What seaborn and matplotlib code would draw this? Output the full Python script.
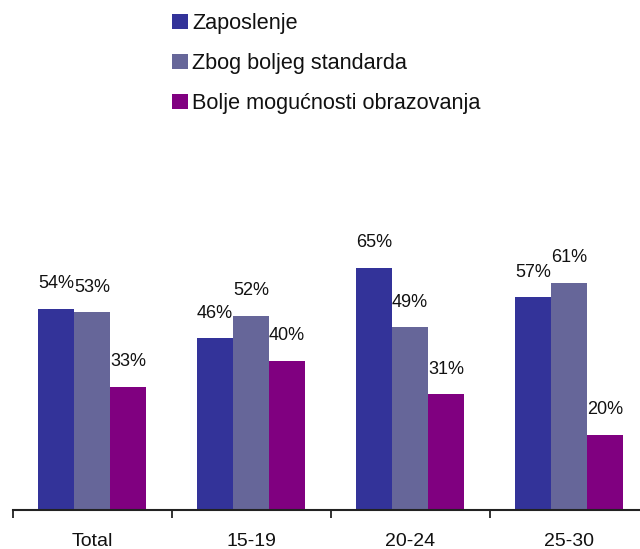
import matplotlib
matplotlib.use("Agg")
import matplotlib.pyplot as plt
import seaborn as sns
import pandas as pd

categories = ["Total", "15-19", "20-24", "25-30"]
series_names = ["Zaposlenje", "Zbog boljeg standarda", "Bolje mogućnosti obrazovanja"]
zaposlenje = [54, 46, 65, 57]
standard = [53, 52, 49, 61]
obrazovanje = [33, 40, 31, 20]
colors = ["#333399", "#666699", "#800080"]

rows = []
for name, vals in zip(series_names, [zaposlenje, standard, obrazovanje]):
    for cat, v in zip(categories, vals):
        rows.append({"Kategorija": cat, "Razlog": name, "Udio": v})
df = pd.DataFrame(rows)

sns.set_theme(style="white")
plt.rcParams["font.family"] = ["Liberation Sans", "DejaVu Sans"]

W, H = 640, 549
fig = plt.figure(figsize=(W / 100, H / 100), dpi=100)
left_px, base_px, cat_px = 12.5, 509.5, 159
ax = fig.add_axes([left_px / W, (H - base_px) / H, 4 * cat_px / W, 372 / H])

sns.barplot(data=df, x="Kategorija", y="Udio", hue="Razlog",
            order=categories, hue_order=series_names,
            palette=colors, width=0.68, saturation=1, errorbar=None,
            linewidth=0, ax=ax)

ax.set_xlim(-0.5, 3.5)
ax.set_ylim(0, 100)

for cont in ax.containers:
    ax.bar_label(cont, labels=[f"{v:.0f}%" for v in cont.datavalues],
                 padding=12, fontsize=13, color="#111111")

# category boundary ticks and centred labels
ax.set_xticks([-0.5, 0.5, 1.5, 2.5, 3.5])
ax.set_xticklabels([])
ax.tick_params(axis="x", which="major", direction="out", length=6,
               width=1.3, color="#222222", bottom=True)
ax.set_xticks(range(len(categories)), minor=True)
ax.set_xticklabels(categories, minor=True, fontsize=14, color="#111111")
ax.tick_params(axis="x", which="minor", length=0, pad=17)
ax.set_yticks([])
ax.set_xlabel("")
ax.set_ylabel("")
for s in ["top", "right", "left"]:
    ax.spines[s].set_visible(False)
ax.spines["bottom"].set_linewidth(1.5)
ax.spines["bottom"].set_color("#222222")

handles, labels = ax.get_legend_handles_labels()
ax.get_legend().remove()
fig.legend(handles, labels, loc="upper left",
           bbox_to_anchor=(168 / W, 1 - 9 / H), frameon=False,
           fontsize=15.6, handlelength=0.7, handleheight=0.7,
           handletextpad=0.22, labelspacing=0.88, borderaxespad=0,
           borderpad=0.2, labelcolor="#111111")

fig.savefig("out.png", dpi=100)
